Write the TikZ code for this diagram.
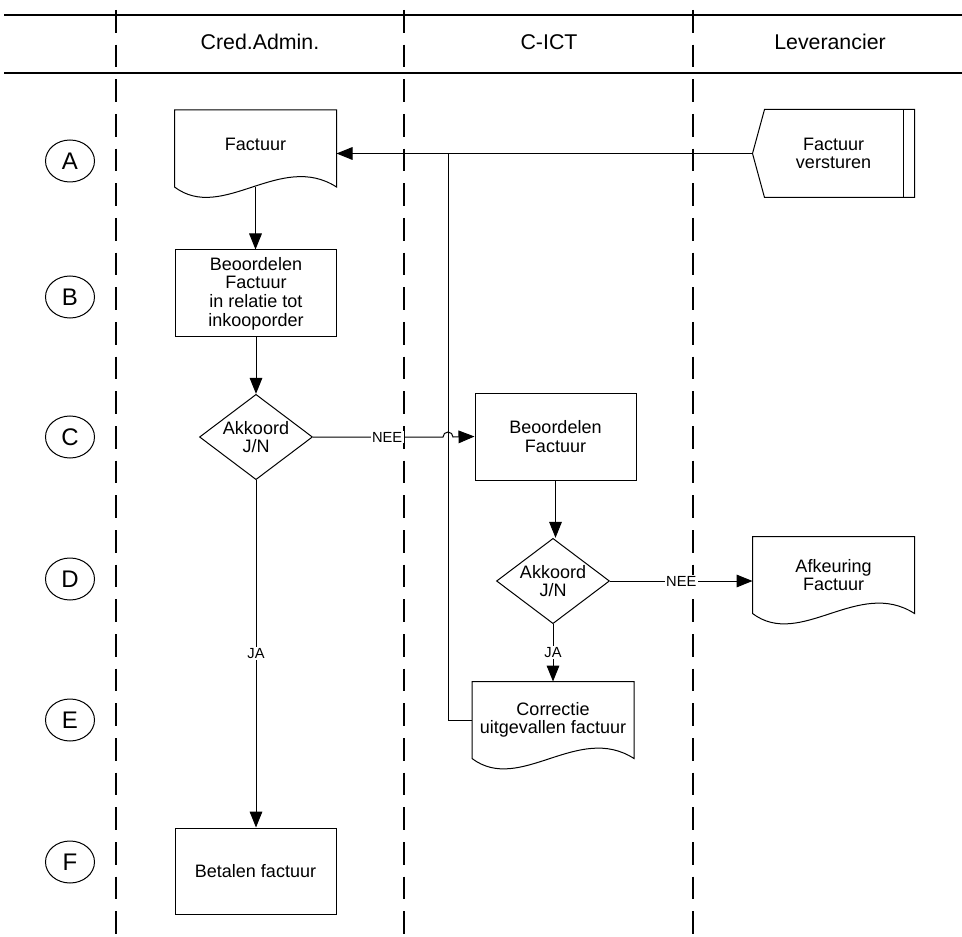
\documentclass[tikz,border=0pt]{standalone}
\usepackage{fontspec}
\setmainfont{Liberation Sans}
\usetikzlibrary{shapes.geometric,arrows.meta}
\tikzset{
  lane/.style={line width=1.5pt,dash pattern=on 17pt off 9pt},
  hdr/.style={inner sep=0pt,font=\fontsize{16}{18}\selectfont},
  box/.style={draw,line width=0.75pt,minimum width=120.75pt,minimum height=64.5pt,inner sep=0pt,align=center,font=\fontsize{13.5}{14}\selectfont},
  doc/.style={box,draw=none,minimum height=57pt},
  dia/.style={diamond,draw,line width=0.75pt,aspect=1.33,inner sep=0pt,minimum width=84.75pt,minimum height=64pt,align=center,font=\fontsize{13.5}{14}\selectfont},
  row/.style={ellipse,draw,line width=0.75pt,minimum width=36.75pt,minimum height=31.5pt,inner sep=0pt,font=\fontsize{18}{20}\selectfont},
  lbl/.style={fill=white,inner sep=1pt,font=\fontsize{11}{12}\selectfont},
  arr/.style={->,line width=0.75pt},
}
\newcommand\docline[1]{\draw[line width=0.75pt] (#1.north west) -- (#1.north east) -- (#1.south east) .. controls +(-56,-36) and +(48,36) .. (#1.south west) -- cycle;}

\begin{document}
\begin{tikzpicture}[x=0.75pt,y=-0.75pt,>={Triangle[length=12pt,width=9.5pt]}]
\useasboundingbox (0,0) rectangle (962,937);

\draw[lane] (116,10) -- (116,937);
\draw[lane] (404,10) -- (404,937);
\draw[lane] (693,10) -- (693,937);

\draw[line width=1.5pt] (4,15) -- (962,15);
\draw[line width=2pt] (4,73) -- (962,73);
\node[hdr] (hCred) at (260,42) {Cred.Admin.};
\node[hdr] (hIct) at (549,42) {C-ICT};
\node[hdr] (hLev) at (830,42) {Leverancier};

\node[row] (rA) at (70,161) {A};
\node[row] (rB) at (70,297) {B};
\node[row] (rC) at (70,437) {C};
\node[row] (rD) at (70,579) {D};
\node[row] (rE) at (70,720) {E};
\node[row] (rF) at (70,862) {F};

\node[doc] (fact) at (255.5,148.5) {\raisebox{6pt}{Factuur}};
\docline{fact}
\node[box,draw=none,minimum height=65.25pt] (vers) at (833.5,153.5) {Factuur\\versturen};
\draw[line width=0.75pt] ([xshift=9pt]vers.north west) -- (vers.north east) -- (vers.south east) -- ([xshift=9pt]vers.south west) -- (vers.west) -- cycle;
\draw[line width=0.75pt] ([xshift=-8.25pt]vers.north east) -- ([xshift=-8.25pt]vers.south east);
\node[box,minimum height=65.25pt] (beo1) at (256,293.5) {Beoordelen\\Factuur\\in relatie tot\\inkooporder};
\node[dia] (dia1) at (256,437) {Akkoord\\J/N};
\node[box,minimum height=65.25pt] (beo2) at (555.5,436.5) {Beoordelen\\Factuur};
\node[dia] (dia2) at (553,581) {Akkoord\\J/N};
\node[doc] (afk) at (833.5,575) {Afkeuring\\Factuur};
\docline{afk}
\node[doc] (corr) at (553,720) {Correctie\\uitgevallen factuur};
\docline{corr}
\node[box] (bet) at (255.5,871) {Betalen factuur};

\coordinate (cross) at (448,437);
\draw[arr] (vers.west) -- (vers.west -| fact.east);
\draw[line width=0.75pt] (corr.west) -| (cross |- vers.west);
\draw[arr] (fact.south) -- (fact.south |- beo1.north);
\draw[arr] (beo1.south) -- (dia1.north);
\draw[arr] (dia1.east) -- node[lbl,pos=0.57]{NEE} ([xshift=-3.75pt]cross) arc[start angle=180,end angle=0,radius=3.75pt] -- (beo2.west);
\draw[arr] (beo2.south) -- (beo2.south |- dia2.north);
\draw[arr] (dia2.east) -- node[lbl]{NEE} (dia2.east -| afk.west);
\draw[arr] (dia2.south) -- node[lbl]{JA} (corr.north);
\draw[arr] (dia1.south) -- node[lbl]{JA} (dia1.south |- bet.north);
\end{tikzpicture}
\end{document}
